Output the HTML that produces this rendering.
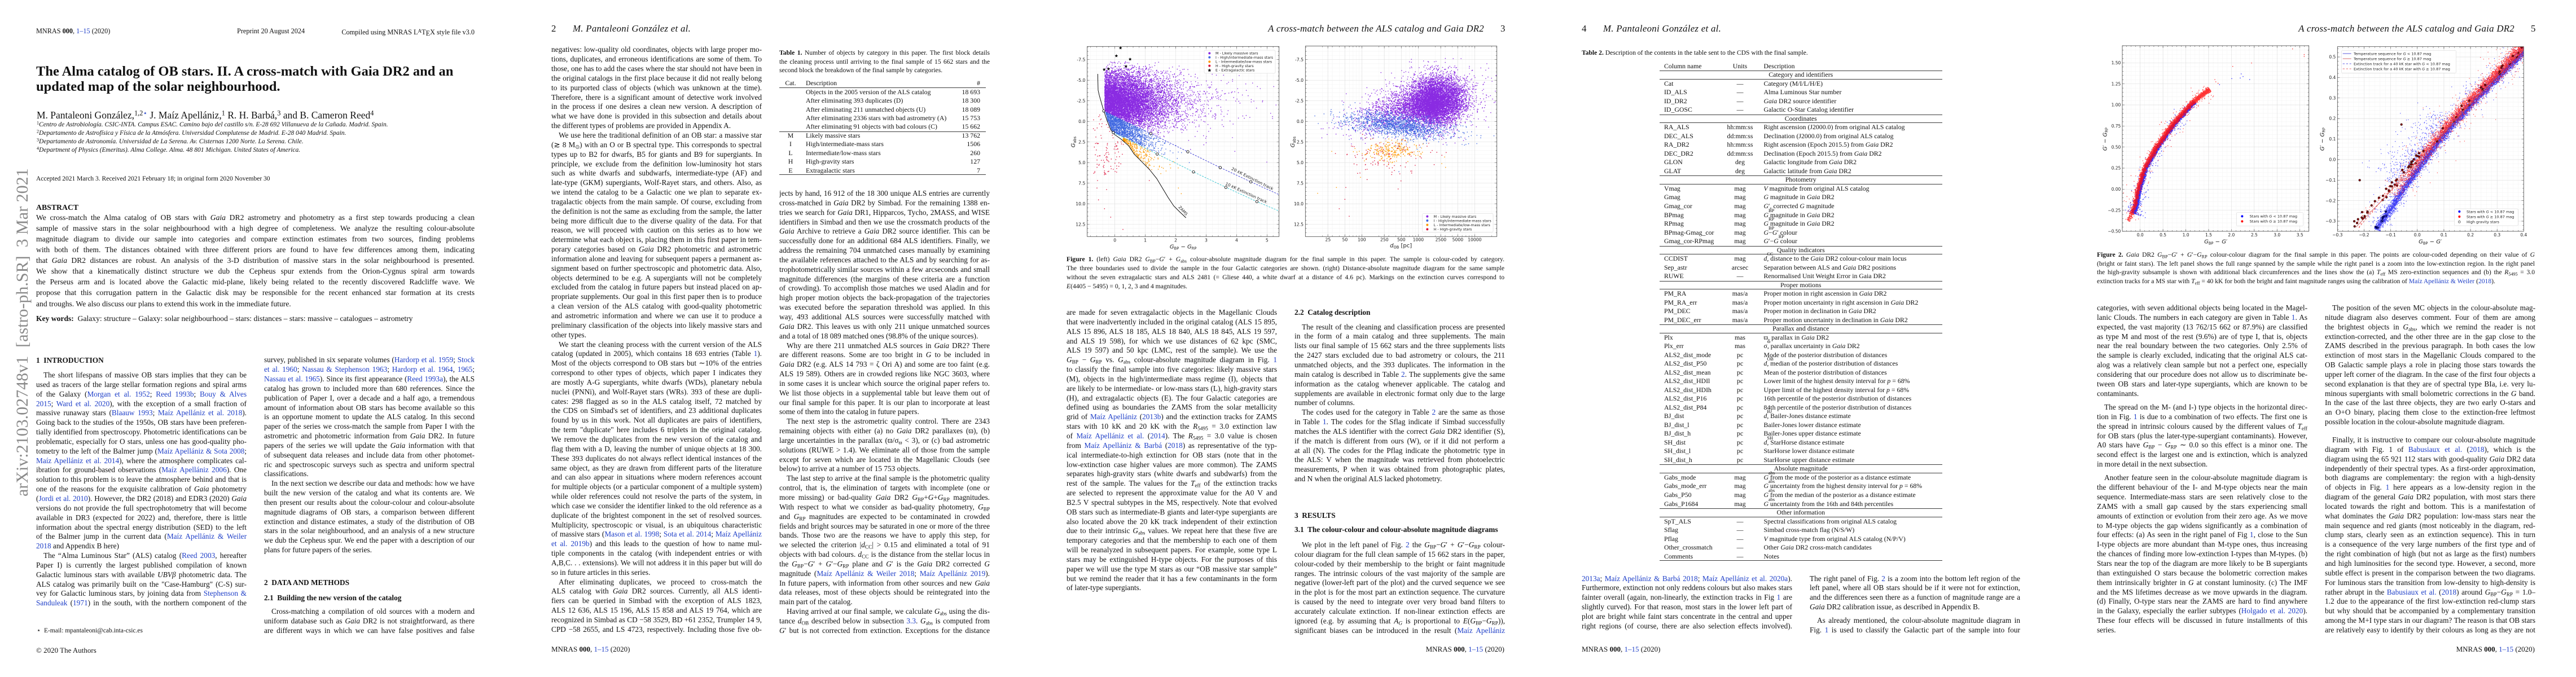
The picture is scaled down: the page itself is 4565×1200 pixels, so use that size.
<!DOCTYPE html>
<html><head><meta charset="utf-8">
<style>
html,body{margin:0;padding:0;background:#fff}
body{position:relative;width:4565px;height:1200px;overflow:hidden;font-family:"Liberation Serif",serif;color:#111}
.a{position:absolute;white-space:nowrap}
.c{position:absolute;width:373px;font-size:13.3px;line-height:16.85px}
.c>div{height:16.85px;overflow:hidden;text-align:justify;text-align-last:justify}
.c>.e{text-align-last:left}
.c>.i{text-indent:13px}
.cap{position:absolute;width:776px;font-size:11.6px;line-height:16px}
.cap>div{height:16px;overflow:hidden;text-align:justify;text-align-last:justify}
.cap>.e{text-align-last:left}
.b{color:#2040c8}
.s{font-size:70%;vertical-align:-0.28em;line-height:0}
.p{font-size:70%;vertical-align:0.45em;line-height:0}
.hd{position:absolute;white-space:nowrap;font-size:16.8px;line-height:20px}
.ft{position:absolute;white-space:nowrap;font-size:13px;line-height:15px}
.sh{position:absolute;white-space:nowrap;font-weight:bold;font-size:13.3px;line-height:16.85px}
.t1c{position:absolute;font-size:11.6px;line-height:15.5px;width:373px}
.t1c>div{height:15.5px;overflow:hidden;text-align:justify;text-align-last:justify}
.t1c>.e{text-align-last:left}
.tb1{position:absolute;left:1381px;top:140.1px;width:366px;font-size:11.8px}
.tb1 .tr{position:relative;height:15.47px;line-height:15.47px;white-space:nowrap}
.tb1 span{position:absolute;top:0}
.q1{left:0;width:40px;text-align:center}.q2{left:47px}.q3{right:10px}
.tb2{position:absolute;left:2940.5px;top:109.74px;width:501.5px;font-size:11.8px}
.tb2 .r{position:relative;height:15.52px;line-height:15.52px;white-space:nowrap}
.tb2 .r span{position:absolute;top:0}
.n{left:8.5px}.u{left:93px;width:100px;text-align:center}.d{left:185px}
.tb2 .g{text-align:center;box-shadow:inset 0 0.9px 0 #222,inset 0 -0.9px 0 #222}
.rt{box-shadow:inset 0 0.9px 0 #222}.rb{box-shadow:inset 0 -0.9px 0 #222}
canvas,svg.f{position:absolute}
svg.f text{font-family:"DejaVu Sans",sans-serif}
</style></head><body>

<!-- ================= PAGE 1 ================= -->
<div class="a" style="left:64px;top:48px;font-size:12.25px;line-height:14px">MNRAS <b>000</b>, <span class="b">1–15</span> (2020)</div>
<div class="a" style="left:420px;top:48px;font-size:12.25px;line-height:14px">Preprint 20 August 2024</div>
<div class="a" style="left:541px;width:300px;text-align:right;top:48px;font-size:12.25px;line-height:14px">Compiled using MNRAS L<span style="font-size:75%;vertical-align:0.3em">A</span>T<span style="vertical-align:-0.2em">E</span>X style file v3.0</div>

<div class="a" style="left:64px;top:113.2px;font-size:24.5px;line-height:27px;font-weight:bold">The Alma catalog of OB stars. II. A cross-match with Gaia DR2 and an<br>updated map of the solar neighbourhood.</div>
<div class="a" style="left:65px;top:194px;font-size:17.5px;line-height:20px">M. Pantaleoni González,<span class="p">1,2</span><span class="b p">⋆</span> J. Maíz Apellániz,<span class="p">1</span> R. H. Barbá,<span class="p">3</span> and B. Cameron Reed<span class="p">4</span></div>
<div class="a" style="left:65px;top:213.6px;font-size:11.5px;line-height:15px;font-style:italic"><span class="p" style="font-style:normal">1</span>Centro de Astrobiología. CSIC-INTA. Campus ESAC. Camino bajo del castillo s/n. E-28 692 Villanueva de la Cañada. Madrid. Spain.<br><span class="p" style="font-style:normal">2</span>Departamento de Astrofísica y Física de la Atmósfera. Universidad Complutense de Madrid. E-28 040 Madrid. Spain.<br><span class="p" style="font-style:normal">3</span>Departamento de Astronomía. Universidad de La Serena. Av. Cisternas 1200 Norte. La Serena. Chile.<br><span class="p" style="font-style:normal">4</span>Department of Physics (Emeritus). Alma College. Alma. 48 801 Michigan. United States of America.</div>
<div class="a" style="left:64px;top:309.6px;font-size:11.5px;line-height:15px">Accepted 2021 March 3. Received 2021 February 18; in original form 2020 November 30</div>

<div class="a" style="left:64px;top:357.8px;font-size:13.8px;line-height:19.1px;font-weight:bold">ABSTRACT</div>
<div class="c" style="left:64px;top:375.8px;width:777px;font-size:13.6px;line-height:19.1px">
<div style="height:19.1px">We cross-match the Alma catalog of OB stars with <i>Gaia</i> DR2 astrometry and photometry as a first step towards producing a clean</div>
<div style="height:19.1px">sample of massive stars in the solar neighbourhood with a high degree of completeness. We analyze the resulting colour-absolute</div>
<div style="height:19.1px">magnitude diagram to divide our sample into categories and compare extinction estimates from two sources, finding problems</div>
<div style="height:19.1px">with both of them. The distances obtained with three different priors are found to have few differences among them, indicating</div>
<div style="height:19.1px">that <i>Gaia</i> DR2 distances are robust. An analysis of the 3-D distribution of massive stars in the solar neighbourhood is presented.</div>
<div style="height:19.1px">We show that a kinematically distinct structure we dub the Cepheus spur extends from the Orion-Cygnus spiral arm towards</div>
<div style="height:19.1px">the Perseus arm and is located above the Galactic mid-plane, likely being related to the recently discovered Radcliffe wave. We</div>
<div style="height:19.1px">propose that this corrugation pattern in the Galactic disk may be responsible for the recent enhanced star formation at its crests</div>
<div class="e" style="height:19.1px">and troughs. We also discuss our plans to extend this work in the immediate future.</div>
</div>
<div class="a" style="left:64px;top:554.8px;font-size:13.6px;line-height:19.1px"><b>Key words:</b>&nbsp; Galaxy: structure – Galaxy: solar neighbourhood – stars: distances – stars: massive – catalogues – astrometry</div>

<div class="a" style="left:24.5px;top:880px;transform-origin:0 0;transform:rotate(-90deg);font-size:30px;line-height:30px;color:#8a8a8a;white-space:pre">arXiv:2103.02748v1  [astro-ph.SR]  3 Mar 2021</div>

<div class="sh" style="left:64px;top:631px">1&nbsp; INTRODUCTION</div>
<div class="c" style="left:64px;top:657px">
<div class="i">The short lifespans of massive OB stars implies that they can be</div>
<div>used as tracers of the large stellar formation regions and spiral arms</div>
<div>of the Galaxy (<span class="b">Morgan et al. 1952</span>; <span class="b">Reed 1993b</span>; <span class="b">Bouy &amp; Alves</span></div>
<div><span class="b">2015</span>; <span class="b">Ward et al. 2020</span>), with the exception of a small fraction of</div>
<div>massive runaway stars (<span class="b">Blaauw 1993</span>; <span class="b">Maíz Apellániz et al. 2018</span>).</div>
<div>Going back to the studies of the 1950s, OB stars have been preferen-</div>
<div>tially identified from spectroscopy. Photometric identifications can be</div>
<div>problematic, especially for O stars, unless one has good-quality pho-</div>
<div>tometry to the left of the Balmer jump (<span class="b">Maíz Apellániz &amp; Sota 2008</span>;</div>
<div><span class="b">Maíz Apellániz et al. 2014</span>), where the atmosphere complicates cal-</div>
<div>ibration for ground-based observations (<span class="b">Maíz Apellániz 2006</span>). One</div>
<div>solution to this problem is to leave the atmosphere behind and that is</div>
<div>one of the reasons for the exquisite calibration of <i>Gaia</i> photometry</div>
<div>(<span class="b">Jordi et al. 2010</span>). However, the DR2 (2018) and EDR3 (2020) <i>Gaia</i></div>
<div>versions do not provide the full spectrophotometry that will become</div>
<div>available in DR3 (expected for 2022) and, therefore, there is little</div>
<div>information about the spectral energy distribution (SED) to the left</div>
<div>of the Balmer jump in the current data (<span class="b">Maíz Apellániz &amp; Weiler</span></div>
<div class="e"><span class="b">2018</span> and Appendix B here)</div>
<div class="i">The “Alma Luminous Star” (ALS) catalog (<span class="b">Reed 2003</span>, hereafter</div>
<div>Paper I) is currently the largest published compilation of known</div>
<div>Galactic luminous stars with available <i>UBVβ</i> photometric data. The</div>
<div>ALS catalog was primarily built on the "Case-Hamburg" (C-S) sur-</div>
<div>vey for Galactic luminous stars, by joining data from <span class="b">Stephenson &amp;</span></div>
<div><span class="b">Sanduleak</span> (<span class="b">1971</span>) in the south, with the northern component of the</div>
</div>
<div class="a" style="left:65px;top:1111px;font-size:11.5px;line-height:15px">⋆&nbsp; E-mail: mpantaleoni@cab.inta-csic.es</div>
<div class="ft" style="left:64px;top:1145px">© 2020 The Authors</div>

<div class="c" style="left:468px;top:630.3px">
<div>survey, published in six separate volumes (<span class="b">Hardorp et al. 1959</span>; <span class="b">Stock</span></div>
<div><span class="b">et al. 1960</span>; <span class="b">Nassau &amp; Stephenson 1963</span>; <span class="b">Hardorp et al. 1964</span>, <span class="b">1965</span>;</div>
<div><span class="b">Nassau et al. 1965</span>). Since its first appearance (<span class="b">Reed 1993a</span>), the ALS</div>
<div>catalog has grown to included more than 680 references. Since the</div>
<div>publication of Paper I, over a decade and a half ago, a tremendous</div>
<div>amount of information about OB stars has become available so this</div>
<div>is an opportune moment to update the ALS catalog. In this second</div>
<div>paper of the series we cross-match the sample from Paper I with the</div>
<div>astrometric and photometric information from <i>Gaia</i> DR2. In future</div>
<div>papers of the series we will update the <i>Gaia</i> information with that</div>
<div>of subsequent data releases and include data from other photomet-</div>
<div>ric and spectroscopic surveys such as spectra and uniform spectral</div>
<div class="e">classifications.</div>
<div class="i">In the next section we describe our data and methods: how we have</div>
<div>built the new version of the catalog and what its contents are. We</div>
<div>then present our results about the colour-colour and colour-absolute</div>
<div>magnitude diagrams of OB stars, a comparison between different</div>
<div>extinction and distance estimates, a study of the distribution of OB</div>
<div>stars in the solar neighbourhood, and an analysis of a new structure</div>
<div>we dub the Cepheus spur. We end the paper with a description of our</div>
<div class="e">plans for future papers of the series.</div>
</div>
<div class="sh" style="left:468px;top:1025px">2&nbsp; DATA AND METHODS</div>
<div class="sh" style="left:468px;top:1051.6px">2.1&nbsp; Building the new version of the catalog</div>
<div class="c" style="left:468px;top:1076px">
<div class="i">Cross-matching a compilation of old sources with a modern and</div>
<div>uniform database such as <i>Gaia</i> DR2 is not straightforward, as there</div>
<div>are different ways in which we can have false positives and false</div>
</div>

<!-- ================= PAGE 2 ================= -->
<div class="hd" style="left:977px;top:41.4px">2</div>
<div class="hd" style="left:1015px;top:41.4px;font-style:italic;letter-spacing:0.3px">M. Pantaleoni González et al.</div>
<div class="c" style="left:977px;top:80.4px">
<div>negatives: low-quality old coordinates, objects with large proper mo-</div>
<div>tions, duplicates, and erroneous identifications are some of them. To</div>
<div>those, one has to add the cases where the star should not have been in</div>
<div>the original catalogs in the first place because it did not really belong</div>
<div>to its purported class of objects (which was unknown at the time).</div>
<div>Therefore, there is a significant amount of detective work involved</div>
<div>in the process if one desires a clean new version. A description of</div>
<div>what we have done is provided in this subsection and details about</div>
<div class="e">the different types of problems are provided in Appendix A.</div>
<div class="i">We use here the traditional definition of an OB star: a massive star</div>
<div>(≳ 8 M<span class="s">⊙</span>) with an O or B spectral type. This corresponds to spectral</div>
<div>types up to B2 for dwarfs, B5 for giants and B9 for supergiants. In</div>
<div>principle, we exclude from the definition low-luminosity hot stars</div>
<div>such as white dwarfs and subdwarfs, intermediate-type (AF) and</div>
<div>late-type (GKM) supergiants, Wolf-Rayet stars, and others. Also, as</div>
<div>we intend the catalog to be a Galactic one we plan to separate ex-</div>
<div>tragalactic objects from the main sample. Of course, excluding from</div>
<div>the definition is not the same as excluding from the sample, the latter</div>
<div>being more difficult due to the diverse quality of the data. For that</div>
<div>reason, we will proceed with caution on this series as to how we</div>
<div>determine what each object is, placing them in this first paper in tem-</div>
<div>porary categories based on <i>Gaia</i> DR2 photometric and astrometric</div>
<div>information alone and leaving for subsequent papers a permanent as-</div>
<div>signment based on further spectroscopic and photometric data. Also,</div>
<div>objects determined to be e.g. A supergiants will not be completely</div>
<div>excluded from the catalog in future papers but instead placed on ap-</div>
<div>propriate supplements. Our goal in this first paper then is to produce</div>
<div>a clean version of the ALS catalog with good-quality photometric</div>
<div>and astrometric information and where we can use it to produce a</div>
<div>preliminary classification of the objects into likely massive stars and</div>
<div class="e">other types.</div>
<div class="i">We start the cleaning process with the current version of the ALS</div>
<div>catalog (updated in 2005), which contains 18 693 entries (Table <span class="b">1</span>).</div>
<div>Most of the objects correspond to OB stars but ∼10% of the entries</div>
<div>correspond to other types of objects, which paper I indicates they</div>
<div>are mostly A-G supergiants, white dwarfs (WDs), planetary nebula</div>
<div>nuclei (PNNi), and Wolf-Rayet stars (WRs). 393 of these are dupli-</div>
<div>cates: 298 flagged as so in the ALS catalog itself, 72 matched by</div>
<div>the CDS on Simbad's set of identifiers, and 23 additional duplicates</div>
<div>found by us in this work. Not all duplicates are pairs of identifiers,</div>
<div>the term "duplicate" here includes 6 triplets in the original catalog.</div>
<div>We remove the duplicates from the new version of the catalog and</div>
<div>flag them with a D, leaving the number of unique objects at 18 300.</div>
<div>These 393 duplicates do not always reflect identical instances of the</div>
<div>same object, as they are drawn from different parts of the literature</div>
<div>and can also appear in situations where modern references account</div>
<div>for multiple objects (or a particular component of a multiple system)</div>
<div>while older references could not resolve the parts of the system, in</div>
<div>which case we consider the identifier linked to the old reference as a</div>
<div>duplicate of the brightest component in the set of resolved sources.</div>
<div>Multiplicity, spectroscopic or visual, is an ubiquitous characteristic</div>
<div>of massive stars (<span class="b">Mason et al. 1998</span>; <span class="b">Sota et al. 2014</span>; <span class="b">Maíz Apellániz</span></div>
<div><span class="b">et al. 2019b</span>) and this leads to the question of how to name mul-</div>
<div>tiple components in the catalog (with independent entries or with</div>
<div>A,B,C. . . extensions). We will not address it in this paper but will do</div>
<div class="e">so in future articles in this series.</div>
<div class="i">After eliminating duplicates, we proceed to cross-match the</div>
<div>ALS catalog with <i>Gaia</i> DR2 sources. Currently, all ALS identi-</div>
<div>fiers can be queried in Simbad with the exception of ALS 1823,</div>
<div>ALS 12 636, ALS 15 196, ALS 15 858 and ALS 19 764, which are</div>
<div>recognized in Simbad as CD −58 3529, BD +61 2352, Trumpler 14 9,</div>
<div>CPD −58 2655, and LS 4723, respectively. Including those five ob-</div>
</div>
<div class="ft" style="left:977px;top:1143px">MNRAS <b>000</b>, <span class="b">1–15</span> (2020)</div>

<div class="t1c" style="left:1381px;top:86px">
<div><b>Table 1.</b> Number of objects by category in this paper. The first block details</div>
<div>the cleaning process until arriving to the final sample of 15 662 stars and the</div>
<div class="e">second block the breakdown of the final sample by categories.</div>
</div>
<div class="tb1">
<div class="tr rt rb"><span class="q1">Cat.</span><span class="q2">Description</span><span class="q3">#</span></div>
<div class="tr"><span class="q2">Objects in the 2005 version of the ALS catalog</span><span class="q3">18 693</span></div>
<div class="tr"><span class="q2">After eliminating 393 duplicates (D)</span><span class="q3">18 300</span></div>
<div class="tr"><span class="q2">After eliminating 211 unmatched objects (U)</span><span class="q3">18 089</span></div>
<div class="tr"><span class="q2">After eliminating 2336 stars with bad astrometry (A)</span><span class="q3">15 753</span></div>
<div class="tr"><span class="q2">After eliminating 91 objects with bad colours (C)</span><span class="q3">15 662</span></div>
<div class="tr rt"><span class="q1">M</span><span class="q2">Likely massive stars</span><span class="q3">13 762</span></div>
<div class="tr"><span class="q1">I</span><span class="q2">High/intermediate-mass stars</span><span class="q3">1506</span></div>
<div class="tr"><span class="q1">L</span><span class="q2">Intermediate/low-mass stars</span><span class="q3">260</span></div>
<div class="tr"><span class="q1">H</span><span class="q2">High-gravity stars</span><span class="q3">127</span></div>
<div class="tr rb"><span class="q1">E</span><span class="q2">Extragalactic stars</span><span class="q3">7</span></div>
</div>

<div class="c" style="left:1381px;top:335px">
<div>jects by hand, 16 912 of the 18 300 unique ALS entries are currently</div>
<div>cross-matched in <i>Gaia</i> DR2 by Simbad. For the remaining 1388 en-</div>
<div>tries we search for <i>Gaia</i> DR1, Hipparcos, Tycho, 2MASS, and WISE</div>
<div>identifiers in Simbad and then we use the crossmatch products of the</div>
<div><i>Gaia</i> Archive to retrieve a <i>Gaia</i> DR2 source identifier. This can be</div>
<div>successfully done for an additional 684 ALS identifiers. Finally, we</div>
<div>address the remaining 704 unmatched cases manually by examining</div>
<div>the available references attached to the ALS and by searching for as-</div>
<div>trophotometrically similar sources within a few arcseconds and small</div>
<div>magnitude differences (the margins of these criteria are a function</div>
<div>of crowding). To accomplish those matches we used Aladin and for</div>
<div>high proper motion objects the back-propagation of the trajectories</div>
<div>was executed before the separation threshold was applied. In this</div>
<div>way, 493 additional ALS sources were successfully matched with</div>
<div><i>Gaia</i> DR2. This leaves us with only 211 unique unmatched sources</div>
<div class="e">and a total of 18 089 matched ones (98.8% of the unique sources).</div>
<div class="i">Why are there 211 unmatched ALS sources in <i>Gaia</i> DR2? There</div>
<div>are different reasons. Some are too bright in <i>G</i> to be included in</div>
<div><i>Gaia</i> DR2 (e.g. ALS 14 793 = ζ Ori A) and some are too faint (e.g.</div>
<div>ALS 19 589). Others are in crowded regions like NGC 3603, where</div>
<div>in some cases it is unclear which source the original paper refers to.</div>
<div>We list those objects in a supplemental table but leave them out of</div>
<div>our final sample for this paper. It is our plan to incorporate at least</div>
<div class="e">some of them into the catalog in future papers.</div>
<div class="i">The next step is the astrometric quality control. There are 2343</div>
<div>remaining objects with either (a) no <i>Gaia</i> DR2 parallaxes (ϖ), (b)</div>
<div>large uncertainties in the parallax (ϖ/σ<span class="s">ϖ</span> &lt; 3), or (c) bad astrometric</div>
<div>solutions (RUWE &gt; 1.4). We eliminate all of those from the sample</div>
<div>except for seven which are located in the Magellanic Clouds (see</div>
<div class="e">below) to arrive at a number of 15 753 objects.</div>
<div class="i">The last step to arrive at the final sample is the photometric quality</div>
<div>control, that is, the elimination of targets with incomplete (one or</div>
<div>more missing) or bad-quality <i>Gaia</i> DR2 <i>G</i><span class="s">BP</span>+<i>G</i>+<i>G</i><span class="s">RP</span> magnitudes.</div>
<div>With respect to what we consider as bad-quality photometry, <i>G</i><span class="s">BP</span></div>
<div>and <i>G</i><span class="s">RP</span> magnitudes are expected to be contaminated in crowded</div>
<div>fields and bright sources may be saturated in one or more of the three</div>
<div>bands. Those two are the reasons we have to apply this step, for which</div>
<div>we selected the criterion |<i>d</i><span class="s">CC</span>| &gt; 0.15 and eliminated a total of 91</div>
<div>objects with bad colours. <i>d</i><span class="s">CC</span> is the distance from the stellar locus in</div>
<div>the <i>G</i><span class="s">BP</span>−<i>G</i>′ + <i>G</i>′−<i>G</i><span class="s">RP</span> plane and <i>G</i>′ is the <i>Gaia</i> DR2 corrected <i>G</i></div>
<div>magnitude (<span class="b">Maíz Apellániz &amp; Weiler 2018</span>; <span class="b">Maíz Apellániz 2019</span>).</div>
<div>In future papers, with information from other sources and new <i>Gaia</i></div>
<div>data releases, most of these objects should be reintegrated into the</div>
<div class="e">main part of the catalog.</div>
<div class="i">Having arrived at our final sample, we calculate <i>G</i><span class="s">abs</span> using the dis-</div>
<div>tance <i>d</i><span class="s">OB</span> described below in subsection <span class="b">3.3</span>. <i>G</i><span class="s">abs</span> is computed from</div>
<div><i>G</i>′ but is not corrected from extinction. Exceptions for the distance</div>
</div>

<!-- ================= PAGE 3 ================= -->
<div class="hd" style="left:2230px;width:400px;text-align:right;top:41.4px;font-style:italic;letter-spacing:0.3px">A cross-match between the ALS catalog and Gaia DR2</div>
<div class="hd" style="left:2659px;top:41.4px">3</div>

<canvas id="k1" width="1200" height="1140" style="left:1880px;top:70px;width:400px;height:380px"></canvas>
<svg class="f" style="left:1880px;top:70px" width="400" height="380" viewBox="0 0 1200 1140">
<g fill="none" stroke-width="2.6" stroke-dasharray="9 6">
<polyline stroke="#2a2ad2" points="228,380 478,500 675,597 847,681 1010,757 1160,825"/>
<polyline stroke="#22c2cf" points="279,495 512,609 705,704 877,786 1042,862 1160,912"/>
</g>
<polyline fill="none" stroke="#000" stroke-width="2.8" points="196,183 198,270 205,300 225,370 245,430 265,480 285,505 320,530 360,565 390,610 430,650 470,690 510,740 540,790 570,840 600,885 630,915 665,948"/>
<g fill="#fff" stroke="#000" stroke-width="2.6">
<circle cx="228" cy="380" r="6.5"/><circle cx="478" cy="500" r="6.5"/><circle cx="675" cy="597" r="6.5"/><circle cx="847" cy="681" r="6.5"/><circle cx="1010" cy="757" r="6.5"/>
<circle cx="279" cy="495" r="6.5"/><circle cx="512" cy="609" r="6.5"/><circle cx="705" cy="704" r="6.5"/><circle cx="877" cy="786" r="6.5"/><circle cx="1042" cy="862" r="6.5"/>
</g>
<g font-size="21" fill="#222">
<text transform="translate(905,692) rotate(26.5)" textLength="246" lengthAdjust="spacingAndGlyphs">20 <tspan font-style="italic">k</tspan>K Extinction track</text>
<text transform="translate(873,772) rotate(24.5)" textLength="240" lengthAdjust="spacingAndGlyphs">10 <tspan font-style="italic">k</tspan>K Extinction track</text>
<text transform="translate(624,893) rotate(47)">ZAMS</text>
</g>
<rect x="140" y="37" width="1020" height="1011" fill="none" stroke="#555" stroke-width="2.6"/>
<rect x="762" y="57" width="378" height="123" rx="6" fill="#fff" fill-opacity="0.85" stroke="#d0d0d0" stroke-width="1.5"/>
<circle cx="790" cy="73" r="6" fill="#8a2be2"/><circle cx="790" cy="95" r="6" fill="#4169e1"/><circle cx="790" cy="118" r="6" fill="#ff9900"/><circle cx="790" cy="140" r="6" fill="#dc143c"/>
<polygon fill="#000" points="790,154 792.6,160.4 799.5,160.9 794.2,165.3 795.9,172 790,168.4 784.1,172 785.8,165.3 780.5,160.9 787.4,160.4"/>
<g font-size="19" fill="#222">
<text x="822" y="80">M - Likely massive stars</text>
<text x="822" y="102">I - High/intermediate-mass stars</text>
<text x="822" y="125">L - Intermediate/low-mass stars</text>
<text x="822" y="147">H - High-gravity stars</text>
<text x="822" y="170">E - Extragalactic stars</text>
</g>
<g font-size="23" fill="#222" text-anchor="end">
<text x="130" y="115">-7.5</text><text x="130" y="224.5">-5.0</text><text x="130" y="334">-2.5</text><text x="130" y="443.5">0.0</text><text x="130" y="553">2.5</text><text x="130" y="662.5">5.0</text><text x="130" y="772">7.5</text><text x="130" y="881.5">10.0</text><text x="130" y="991">12.5</text>
</g>
<g font-size="23" fill="#222" text-anchor="middle">
<text x="287" y="1076">0</text><text x="448.8" y="1076">1</text><text x="610.6" y="1076">2</text><text x="772.4" y="1076">3</text><text x="934.2" y="1076">4</text><text x="1096" y="1076">5</text>
</g>
<text x="650" y="1112" text-anchor="middle" font-size="30" fill="#222"><tspan font-style="italic">G</tspan><tspan font-size="20" dy="6">BP</tspan><tspan dy="-6"> − </tspan><tspan font-style="italic">G</tspan><tspan font-size="20" dy="6">RP</tspan></text>
<text transform="translate(75,545) rotate(-90)" text-anchor="middle" font-size="30" fill="#222"><tspan font-style="italic">G</tspan><tspan font-size="20" dy="6">abs</tspan></text>
</svg>

<canvas id="k2" width="1200" height="1140" style="left:2280px;top:70px;width:400px;height:380px"></canvas>
<svg class="f" style="left:2280px;top:70px" width="400" height="380" viewBox="0 0 1200 1140">
<rect x="100" y="35" width="1018" height="1013" fill="none" stroke="#555" stroke-width="2.6"/>
<rect x="722" y="925" width="376" height="100" rx="6" fill="#fff" fill-opacity="0.85" stroke="#d0d0d0" stroke-width="1.5"/>
<circle cx="748" cy="941" r="6" fill="#8a2be2"/><circle cx="748" cy="963" r="6" fill="#4169e1"/><circle cx="748" cy="986" r="6" fill="#ff9900"/><circle cx="748" cy="1009" r="6" fill="#dc143c"/>
<g font-size="19" fill="#222">
<text x="782" y="948">M - Likely massive stars</text>
<text x="782" y="970">I - High/intermediate-mass stars</text>
<text x="782" y="993">L - Intermediate/low-mass stars</text>
<text x="782" y="1016">H - High-gravity stars</text>
</g>
<g font-size="23" fill="#222" text-anchor="end">
<text x="90" y="115">-7.5</text><text x="90" y="224.5">-5.0</text><text x="90" y="334">-2.5</text><text x="90" y="443.5">0.0</text><text x="90" y="553">2.5</text><text x="90" y="662.5">5.0</text><text x="90" y="772">7.5</text><text x="90" y="881.5">10.0</text><text x="90" y="991">12.5</text>
</g>
<g font-size="23" fill="#222" text-anchor="middle">
<text x="220" y="1072">25</text><text x="310" y="1072">50</text><text x="400" y="1072">100</text><text x="520" y="1072">250</text><text x="610" y="1072">500</text><text x="700" y="1072">1000</text><text x="820" y="1072">2500</text><text x="910" y="1072">5000</text><text x="1000" y="1072">10000</text>
</g>
<text x="608" y="1105" text-anchor="middle" font-size="30" fill="#222"><tspan font-style="italic">d</tspan><tspan font-size="20" dy="6">OB</tspan><tspan dy="-6"> [pc]</tspan></text>
<text transform="translate(42,545) rotate(-90)" text-anchor="middle" font-size="30" fill="#222"><tspan font-style="italic">G</tspan><tspan font-size="20" dy="6">abs</tspan></text>
</svg>

<div class="cap" style="left:1890px;top:451.8px">
<div><b>Figure 1.</b> (left) <i>Gaia</i> DR2 <i>G</i><span class="s">BP</span>−<i>G</i>′ + <i>G</i><span class="s">abs</span> colour-absolute magnitude diagram for the final sample in this paper. The sample is colour-coded by category.</div>
<div>The three boundaries used to divide the sample in the four Galactic categories are shown. (right) Distance-absolute magnitude diagram for the same sample</div>
<div>without the seven extragalactic stars and ALS 2481 (= Gliese 440, a white dwarf at a distance of 4.6 pc). Markings on the extinction curves correspond to</div>
<div class="e"><i>E</i>(4405 − 5495) = 0, 1, 2, 3 and 4 magnitudes.</div>
</div>

<div class="c" style="left:1890px;top:546px">
<div>are made for seven extragalactic objects in the Magellanic Clouds</div>
<div>that were inadvertently included in the original catalog (ALS 15 895,</div>
<div>ALS 15 896, ALS 18 185, ALS 18 840, ALS 18 845, ALS 19 597,</div>
<div>and ALS 19 598), for which we use distances of 62 kpc (SMC,</div>
<div>ALS 19 597) and 50 kpc (LMC, rest of the sample). We use the</div>
<div><i>G</i><span class="s">BP</span> − <i>G</i><span class="s">RP</span> vs. <i>G</i><span class="s">abs</span> colour-absolute magnitude diagram in Fig. <span class="b">1</span></div>
<div>to classify the final sample into five categories: likely massive stars</div>
<div>(M), objects in the high/intermediate mass regime (I), objects that</div>
<div>are likely to be intermediate- or low-mass stars (L), high-gravity stars</div>
<div>(H), and extragalactic objects (E). The four Galactic categories are</div>
<div>defined using as boundaries the ZAMS from the solar metallicity</div>
<div>grid of <span class="b">Maíz Apellániz</span> (<span class="b">2013b</span>) and the extinction tracks for ZAMS</div>
<div>stars with 10 kK and 20 kK with the <i>R</i><span class="s">5495</span> = 3.0 extinction law</div>
<div>of <span class="b">Maíz Apellániz et al.</span> (<span class="b">2014</span>). The <i>R</i><span class="s">5495</span> = 3.0 value is chosen</div>
<div>from <span class="b">Maíz Apellániz &amp; Barbá</span> (<span class="b">2018</span>) as representative of the typ-</div>
<div>ical intermediate-to-high extinction for OB stars (note that in the</div>
<div>low-extinction case higher values are more common). The ZAMS</div>
<div>separates high-gravity stars (white dwarfs and subdwarfs) from the</div>
<div>rest of the sample. The values for the <i>T</i><span class="s">eff</span> of the extinction tracks</div>
<div>are selected to represent the approximate value for the A0 V and</div>
<div>B2.5 V spectral subtypes in the MS, respectively. Note that evolved</div>
<div>OB stars such as intermediate-B giants and later-type supergiants are</div>
<div>also located above the 20 kK track independent of their extinction</div>
<div>due to their intrinsic <i>G</i><span class="s">abs</span> values. We repeat here that these five are</div>
<div>temporary categories and that the membership to each one of them</div>
<div>will be reanalyzed in subsequent papers. For example, some type L</div>
<div>stars may be extinguished H-type objects. For the purposes of this</div>
<div>paper we will use the type M stars as our “OB massive star sample”</div>
<div>but we remind the reader that it has a few contaminants in the form</div>
<div class="e">of later-type supergiants.</div>
</div>

<div class="sh" style="left:2294px;top:546px">2.2&nbsp; Catalog description</div>
<div class="c" style="left:2294px;top:571.6px">
<div class="i">The result of the cleaning and classification process are presented</div>
<div>in the form of a main catalog and three supplements. The main catalog</div>
<div>lists our final sample of 15 662 stars and the three supplements lists</div>
<div>the 2427 stars excluded due to bad astrometry or colours, the 211</div>
<div>unmatched objects, and the 393 duplicates. The information in the</div>
<div>main catalog is described in Table <span class="b">2</span>. The supplements give the same</div>
<div>information as the catalog whenever applicable. The catalog and</div>
<div>supplements are available in electronic format only due to the large</div>
<div class="e">number of columns.</div>
<div class="i">The codes used for the category in Table <span class="b">2</span> are the same as those</div>
<div>in Table <span class="b">1</span>. The codes for the Sflag indicate if Simbad successfully</div>
<div>matches the ALS identifier with the correct <i>Gaia</i> DR2 identifier (S),</div>
<div>if the match is different from ours (W), or if it did not perform a match</div>
<div>at all (N). The codes for the Pflag indicate the photometric type in</div>
<div>the ALS: V when the magnitude was retrieved from photoelectric</div>
<div>measurements, P when it was obtained from photographic plates,</div>
<div class="e">and N when the original ALS lacked photometry.</div>
</div>
<div class="sh" style="left:2294px;top:905.8px">3&nbsp; RESULTS</div>
<div class="sh" style="left:2294px;top:931px">3.1&nbsp; The colour-colour and colour-absolute magnitude diagrams</div>
<div class="c" style="left:2294px;top:958px">
<div class="i">We plot in the left panel of Fig. <span class="b">2</span> the <i>G</i><span class="s">BP</span>−<i>G</i>′ + <i>G</i>′−<i>G</i><span class="s">RP</span> colour-</div>
<div>colour diagram for the full clean sample of 15 662 stars in the paper,</div>
<div>colour-coded by their membership to the bright or faint magnitude</div>
<div>ranges. The intrinsic colours of the vast majority of the sample are</div>
<div>negative (lower-left part of the plot) and the curved sequence we see</div>
<div>in the plot is for the most part an extinction sequence. The curvature</div>
<div>is caused by the need to integrate over very broad band filters to</div>
<div>accurately calculate extinction. If non-linear extinction effects are</div>
<div>ignored (e.g. by assuming that <i>A</i><span class="s"><i>G</i></span> is proportional to <i>E</i>(<i>G</i><span class="s">BP</span>−<i>G</i><span class="s">RP</span>)),</div>
<div>significant biases can be introduced in the result (<span class="b">Maíz Apellániz</span></div>
</div>
<div class="ft" style="left:2366px;width:300px;text-align:right;top:1143px">MNRAS <b>000</b>, <span class="b">1–15</span> (2020)</div>

<!-- ================= PAGE 4 ================= -->
<div class="hd" style="left:2803px;top:41.4px">4</div>
<div class="hd" style="left:2841px;top:41.4px;font-style:italic;letter-spacing:0.3px">M. Pantaleoni González et al.</div>
<div class="a" style="left:2803px;top:86px;font-size:11.6px;line-height:15.5px"><b>Table 2.</b> Description of the contents in the table sent to the CDS with the final sample.</div>
<div class="tb2">
<div class="r"><span class="n">Column name</span><span class="u">Units</span><span class="d">Description</span></div>
<div class="r g">Category and identifiers</div>
<div class="r"><span class="n">Cat</span><span class="u">—</span><span class="d">Category (M/I/L/H/E)</span></div>
<div class="r"><span class="n">ID_ALS</span><span class="u">—</span><span class="d">Alma Luminous Star number</span></div>
<div class="r"><span class="n">ID_DR2</span><span class="u">—</span><span class="d"><i>Gaia</i> DR2 source identifier</span></div>
<div class="r"><span class="n">ID_GOSC</span><span class="u">—</span><span class="d">Galactic O-Star Catalog identifier</span></div>
<div class="r g">Coordinates</div>
<div class="r"><span class="n">RA_ALS</span><span class="u">hh:mm:ss</span><span class="d">Right ascension (J2000.0) from original ALS catalog</span></div>
<div class="r"><span class="n">DEC_ALS</span><span class="u">dd:mm:ss</span><span class="d">Declination (J2000.0) from original ALS catalog</span></div>
<div class="r"><span class="n">RA_DR2</span><span class="u">hh:mm:ss</span><span class="d">Right ascension (Epoch 2015.5) from <i>Gaia</i> DR2</span></div>
<div class="r"><span class="n">DEC_DR2</span><span class="u">dd:mm:ss</span><span class="d">Declination (Epoch 2015.5) from <i>Gaia</i> DR2</span></div>
<div class="r"><span class="n">GLON</span><span class="u">deg</span><span class="d">Galactic longitude from <i>Gaia</i> DR2</span></div>
<div class="r"><span class="n">GLAT</span><span class="u">deg</span><span class="d">Galactic latitude from <i>Gaia</i> DR2</span></div>
<div class="r g">Photometry</div>
<div class="r"><span class="n">Vmag</span><span class="u">mag</span><span class="d"><i>V</i> magnitude from original ALS catalog</span></div>
<div class="r"><span class="n">Gmag</span><span class="u">mag</span><span class="d"><i>G</i> magnitude in <i>Gaia</i> DR2</span></div>
<div class="r"><span class="n">Gmag_cor</span><span class="u">mag</span><span class="d"><i>G</i>′, corrected <i>G</i> magnitude</span></div>
<div class="r"><span class="n">BPmag</span><span class="u">mag</span><span class="d"><i>G</i><span class="s">BP</span> magnitude in <i>Gaia</i> DR2</span></div>
<div class="r"><span class="n">RPmag</span><span class="u">mag</span><span class="d"><i>G</i><span class="s">RP</span> magnitude in <i>Gaia</i> DR2</span></div>
<div class="r"><span class="n">BPmag-Gmag_cor</span><span class="u">mag</span><span class="d"><i>G</i><span class="s">BP</span>−<i>G</i>′ colour</span></div>
<div class="r"><span class="n">Gmag_cor-RPmag</span><span class="u">mag</span><span class="d"><i>G</i>′−<i>G</i><span class="s">RP</span> colour</span></div>
<div class="r g">Quality indicators</div>
<div class="r"><span class="n">CCDIST</span><span class="u">mag</span><span class="d"><i>d</i><span class="s">CC</span>, distance to the <i>Gaia</i> DR2 colour-colour main locus</span></div>
<div class="r"><span class="n">Sep_astr</span><span class="u">arcsec</span><span class="d">Separation between ALS and <i>Gaia</i> DR2 positions</span></div>
<div class="r"><span class="n">RUWE</span><span class="u">—</span><span class="d">Renormalised Unit Weight Error in Gaia DR2</span></div>
<div class="r g">Proper motions</div>
<div class="r"><span class="n">PM_RA</span><span class="u">mas/a</span><span class="d">Proper motion in right ascension in <i>Gaia</i> DR2</span></div>
<div class="r"><span class="n">PM_RA_err</span><span class="u">mas/a</span><span class="d">Proper motion uncertainty in right ascension in <i>Gaia</i> DR2</span></div>
<div class="r"><span class="n">PM_DEC</span><span class="u">mas/a</span><span class="d">Proper motion in declination in <i>Gaia</i> DR2</span></div>
<div class="r"><span class="n">PM_DEC_err</span><span class="u">mas/a</span><span class="d">Proper motion uncertainty in declination in <i>Gaia</i> DR2</span></div>
<div class="r g">Parallax and distance</div>
<div class="r"><span class="n">Plx</span><span class="u">mas</span><span class="d">ϖ, parallax in <i>Gaia</i> DR2</span></div>
<div class="r"><span class="n">Plx_err</span><span class="u">mas</span><span class="d">σ<span class="s">ϖ</span>, parallax uncertainty in <i>Gaia</i> DR2</span></div>
<div class="r"><span class="n">ALS2_dist_mode</span><span class="u">pc</span><span class="d">Mode of the posterior distribution of distances</span></div>
<div class="r"><span class="n">ALS2_dist_P50</span><span class="u">pc</span><span class="d"><i>d</i><span class="s">OB</span>, median of the posterior distribution of distances</span></div>
<div class="r"><span class="n">ALS2_dist_mean</span><span class="u">pc</span><span class="d">Mean of the posterior distribution of distances</span></div>
<div class="r"><span class="n">ALS2_dist_HDIl</span><span class="u">pc</span><span class="d">Lower limit of the highest density interval for <i>p</i> = 68%</span></div>
<div class="r"><span class="n">ALS2_dist_HDIh</span><span class="u">pc</span><span class="d">Upper limit of the highest density interval for <i>p</i> = 68%</span></div>
<div class="r"><span class="n">ALS2_dist_P16</span><span class="u">pc</span><span class="d">16th percentile of the posterior distribution of distances</span></div>
<div class="r"><span class="n">ALS2_dist_P84</span><span class="u">pc</span><span class="d">84th percentile of the posterior distribution of distances</span></div>
<div class="r"><span class="n">BJ_dist</span><span class="u">pc</span><span class="d"><i>d</i><span class="s">BJ</span>, Bailer-Jones distance estimate</span></div>
<div class="r"><span class="n">BJ_dist_l</span><span class="u">pc</span><span class="d">Bailer-Jones lower distance estimate</span></div>
<div class="r"><span class="n">BJ_dist_h</span><span class="u">pc</span><span class="d">Bailer-Jones upper distance estimate</span></div>
<div class="r"><span class="n">SH_dist</span><span class="u">pc</span><span class="d"><i>d</i><span class="s">SH</span>, StarHorse distance estimate</span></div>
<div class="r"><span class="n">SH_dist_l</span><span class="u">pc</span><span class="d">StarHorse lower distance estimate</span></div>
<div class="r"><span class="n">SH_dist_h</span><span class="u">pc</span><span class="d">StarHorse upper distance estimate</span></div>
<div class="r g">Absolute magnitude</div>
<div class="r"><span class="n">Gabs_mode</span><span class="u">mag</span><span class="d"><i>G</i><span class="s">abs</span> from the mode of the posterior as a distance estimate</span></div>
<div class="r"><span class="n">Gabs_mode_err</span><span class="u">mag</span><span class="d"><i>G</i><span class="s">abs</span> uncertainty from the highest density interval for <i>p</i> = 68%</span></div>
<div class="r"><span class="n">Gabs_P50</span><span class="u">mag</span><span class="d"><i>G</i><span class="s">abs</span> from the median of the posterior as a distance estimate</span></div>
<div class="r"><span class="n">Gabs_P1684</span><span class="u">mag</span><span class="d"><i>G</i><span class="s">abs</span> uncertainty from the 16th and 84th percentiles</span></div>
<div class="r g">Other information</div>
<div class="r"><span class="n">SpT_ALS</span><span class="u">—</span><span class="d">Spectral classifications from original ALS catalog</span></div>
<div class="r"><span class="n">Sflag</span><span class="u">—</span><span class="d">Simbad cross-match flag (N/S/W)</span></div>
<div class="r"><span class="n">Pflag</span><span class="u">—</span><span class="d"><i>V</i> magnitude type from original ALS catalog (N/P/V)</span></div>
<div class="r"><span class="n">Other_crossmatch</span><span class="u">—</span><span class="d">Other <i>Gaia</i> DR2 cross-match candidates</span></div>
<div class="r rb"><span class="n">Comments</span><span class="u">—</span><span class="d">Notes</span></div>
</div>

<div class="c" style="left:2803px;top:1017.6px">
<div><span class="b">2013a</span>; <span class="b">Maíz Apellániz &amp; Barbá 2018</span>; <span class="b">Maíz Apellániz et al. 2020a</span>).</div>
<div>Furthermore, extinction not only reddens colours but also makes stars</div>
<div>fainter overall (again, non-linearly, the extinction tracks in Fig <span class="b">1</span> are</div>
<div>slightly curved). For that reason, most stars in the lower left part of the</div>
<div>plot are bright while faint stars concentrate in the central and upper</div>
<div>right regions (of course, there are also selection effects involved).</div>
</div>
<div class="c" style="left:3207px;top:1017.6px">
<div>The right panel of Fig. <span class="b">2</span> is a zoom into the bottom left region of the</div>
<div>left panel, where all OB stars should be if it were not for extinction,</div>
<div>and the differences seen there as a function of magnitude range are a</div>
<div class="e"><i>Gaia</i> DR2 calibration issue, as described in Appendix B.</div>
</div>
<div class="c" style="left:3207px;top:1092px">
<div class="i">As already mentioned, the colour-absolute magnitude diagram in</div>
<div>Fig. <span class="b">1</span> is used to classify the Galactic part of the sample into four</div>
</div>
<div class="ft" style="left:2803px;top:1143px">MNRAS <b>000</b>, <span class="b">1–15</span> (2020)</div>

<!-- ================= PAGE 5 ================= -->
<div class="hd" style="left:4056px;width:400px;text-align:right;top:41.4px;font-style:italic;letter-spacing:0.3px">A cross-match between the ALS catalog and Gaia DR2</div>
<div class="hd" style="left:4485px;top:41.4px">5</div>

<canvas id="k3" width="1170" height="1110" style="left:3720px;top:70px;width:390px;height:370px"></canvas>
<svg class="f" style="left:3720px;top:70px" width="390" height="370" viewBox="0 0 1170 1110">
<rect x="123" y="33" width="992" height="987" fill="none" stroke="#555" stroke-width="2.6"/>
<rect x="730" y="920" width="355" height="72" rx="6" fill="#fff" fill-opacity="0.85" stroke="#d0d0d0" stroke-width="1.5"/>
<circle cx="760" cy="940" r="6" fill="#0000ff"/><circle cx="760" cy="967" r="6" fill="#ff0000"/>
<g font-size="19.5" fill="#222">
<text x="800" y="947">Stars with <tspan font-style="italic">G</tspan> &lt; 10.87 mag</text>
<text x="800" y="974">Stars with <tspan font-style="italic">G</tspan> ≥ 10.87 mag</text>
</g>
<g font-size="22.5" fill="#222" text-anchor="end">
<text x="115" y="132">1.50</text><text x="115" y="244">1.25</text><text x="115" y="356">1.00</text><text x="115" y="468">0.75</text><text x="115" y="580">0.50</text><text x="115" y="692">0.25</text><text x="115" y="804">0.00</text><text x="115" y="916">−0.25</text><text x="115" y="1028">−0.50</text>
</g>
<g font-size="22.5" fill="#222" text-anchor="middle">
<text x="218" y="1047">0.0</text><text x="339.3" y="1047">0.5</text><text x="460.6" y="1047">1.0</text><text x="581.8" y="1047">1.5</text><text x="703.1" y="1047">2.0</text><text x="824.4" y="1047">2.5</text><text x="945.7" y="1047">3.0</text><text x="1067" y="1047">3.5</text>
</g>
<text x="620" y="1085" text-anchor="middle" font-size="30" fill="#222"><tspan font-style="italic">G</tspan><tspan font-size="20" dy="6">BP</tspan><tspan dy="-6"> − </tspan><tspan font-style="italic">G</tspan>′</text>
<text transform="translate(40,530) rotate(-90)" text-anchor="middle" font-size="30" fill="#222"><tspan font-style="italic">G</tspan>′ − <tspan font-style="italic">G</tspan><tspan font-size="20" dy="6">RP</tspan></text>
</svg>

<canvas id="k4" width="1170" height="1110" style="left:4110px;top:70px;width:390px;height:370px"></canvas>
<svg class="f" style="left:4110px;top:70px" width="390" height="370" viewBox="0 0 1170 1110">
<g fill="none" stroke-width="2.6">
<polyline stroke="#d05a5a" points="195,998 260,930 340,850 430,750 520,650 620,540 730,420 840,300 960,180 1087,50"/>
<polyline stroke="#4646d8" points="310,998 380,900 450,790 530,680 620,560 720,440 830,320 950,200 1087,65"/>
<polyline stroke="#e04040" stroke-dasharray="10 8" points="210,1000 320,870 430,740 540,620 660,490 800,340 940,200 1087,45"/>
<polyline stroke="#3333dd" stroke-dasharray="10 8" points="320,1000 470,780 630,560 790,370 950,215 1087,80"/>
</g>
<rect x="97" y="38" width="990" height="982" fill="none" stroke="#555" stroke-width="2.6"/>
<rect x="118" y="58" width="610" height="120" rx="6" fill="#fff" fill-opacity="0.85" stroke="#d0d0d0" stroke-width="1.5"/>
<line x1="125" y1="75" x2="170" y2="75" stroke="#4646d8" stroke-width="2.6"/>
<line x1="125" y1="102" x2="170" y2="102" stroke="#d05a5a" stroke-width="2.6"/>
<line x1="125" y1="129" x2="170" y2="129" stroke="#3333dd" stroke-width="2.6" stroke-dasharray="10 8"/>
<line x1="125" y1="156" x2="170" y2="156" stroke="#e04040" stroke-width="2.6" stroke-dasharray="10 8"/>
<g font-size="19.5" fill="#222">
<text x="183" y="82">Temperature sequence for <tspan font-style="italic">G</tspan> &lt; 10.87 mag</text>
<text x="183" y="109">Temperature sequence for <tspan font-style="italic">G</tspan> ≥ 10.87 mag</text>
<text x="183" y="136">Extinction track for a 40 <tspan font-style="italic">k</tspan>K star with <tspan font-style="italic">G</tspan> &lt; 10.87 mag</text>
<text x="183" y="163">Extinction track for a 40 <tspan font-style="italic">k</tspan>K star with <tspan font-style="italic">G</tspan> ≥ 10.87 mag</text>
</g>
<rect x="718" y="900" width="339" height="90" rx="6" fill="#fff" fill-opacity="0.85" stroke="#d0d0d0" stroke-width="1.5"/>
<circle cx="745" cy="915" r="6" fill="#0000ff"/><circle cx="745" cy="942" r="6" fill="#ff0000"/><circle cx="745" cy="970" r="5.5" fill="none" stroke="#222" stroke-width="2"/>
<g font-size="19.5" fill="#222">
<text x="783" y="922">Stars with <tspan font-style="italic">G</tspan> &lt; 10.87 mag</text>
<text x="783" y="949">Stars with <tspan font-style="italic">G</tspan> ≥ 10.87 mag</text>
<text x="783" y="977">High gravity stars</text>
</g>
<g font-size="22.5" fill="#222" text-anchor="end">
<text x="88" y="101">0.5</text><text x="88" y="210">0.4</text><text x="88" y="319">0.3</text><text x="88" y="428">0.2</text><text x="88" y="537.5">0.1</text><text x="88" y="646.6">0.0</text><text x="88" y="755.8">−0.1</text><text x="88" y="865">−0.2</text><text x="88" y="974">−0.3</text>
</g>
<g font-size="22.5" fill="#222" text-anchor="middle">
<text x="97" y="1047">−0.3</text><text x="238.4" y="1047">−0.2</text><text x="379.9" y="1047">−0.1</text><text x="521.3" y="1047">0.0</text><text x="662.7" y="1047">0.1</text><text x="804.1" y="1047">0.2</text><text x="945.6" y="1047">0.3</text><text x="1087" y="1047">0.4</text>
</g>
<text x="590" y="1085" text-anchor="middle" font-size="30" fill="#222"><tspan font-style="italic">G</tspan><tspan font-size="20" dy="6">BP</tspan><tspan dy="-6"> − </tspan><tspan font-style="italic">G</tspan>′</text>
<text transform="translate(26,530) rotate(-90)" text-anchor="middle" font-size="30" fill="#222"><tspan font-style="italic">G</tspan>′ − <tspan font-style="italic">G</tspan><tspan font-size="20" dy="6">RP</tspan></text>
</svg>

<div class="cap" style="left:3716px;top:443.9px;line-height:15.7px">
<div style="height:15.7px"><b>Figure 2.</b> <i>Gaia</i> DR2 <i>G</i><span class="s">BP</span>−<i>G</i>′ + <i>G</i>′−<i>G</i><span class="s">RP</span> colour-colour diagram for the final sample in this paper. The points are colour-coded depending on their value of <i>G</i></div>
<div style="height:15.7px">(bright or faint stars). The left panel shows the full range spanned by the sample while the right panel is a zoom into the low-extinction region. In the right panel</div>
<div style="height:15.7px">the high-gravity subsample is shown with additional black circumferences and the lines show the (a) <i>T</i><span class="s">eff</span> MS zero-extinction sequences and (b) the <i>R</i><span class="s">5495</span> = 3.0</div>
<div class="e" style="height:15.7px">extinction tracks for a MS star with <i>T</i><span class="s">eff</span> = 40 kK for both the bright and faint magnitude ranges using the calibration of <span class="b">Maíz Apellániz &amp; Weiler</span> (<span class="b">2018</span>).</div>
</div>

<div class="c" style="left:3716px;top:538px">
<div>categories, with seven additional objects being located in the Magel-</div>
<div>lanic Clouds. The numbers in each category are given in Table <span class="b">1</span>. As</div>
<div>expected, the vast majority (13 762/15 662 or 87.9%) are classified</div>
<div>as type M and most of the rest (9.6%) are of type I, that is, objects</div>
<div>near the real boundary between the two categories. Only 2.5% of</div>
<div>the sample is clearly excluded, indicating that the original ALS cat-</div>
<div>alog was a relatively clean sample but not a perfect one, especially</div>
<div>considering that our procedure does not allow us to discriminate be-</div>
<div>tween OB stars and later-type supergiants, which are known to be</div>
<div class="e">contaminants.</div>
</div>
<div class="c" style="left:3716px;top:714px">
<div class="i">The spread on the M- (and I-) type objects in the horizontal direc-</div>
<div>tion in Fig. <span class="b">1</span> is due to a combination of two effects. The first one is</div>
<div>the spread in intrinsic colours caused by the different values of <i>T</i><span class="s">eff</span></div>
<div>for OB stars (plus the later-type-supergiant contaminants). However,</div>
<div>A0 stars have <i>G</i><span class="s">BP</span> − <i>G</i><span class="s">RP</span> ∼ 0.0 so this effect is a minor one. The</div>
<div>second effect is the largest one and is extinction, which is analyzed</div>
<div class="e">in more detail in the next subsection.</div>
</div>
<div class="c" style="left:3716px;top:839.4px">
<div class="i">Another feature seen in the colour-absolute magnitude diagram is</div>
<div>the different behaviour of the I- and M-type objects near the main</div>
<div>sequence. Intermediate-mass stars are seen relatively close to the</div>
<div>ZAMS with a small gap caused by the stars experiencing small</div>
<div>amounts of extinction or evolution from their zero age. As we move</div>
<div>to M-type objects the gap widens significantly as a combination of</div>
<div>four effects: (a) As seen in the right panel of Fig <span class="b">1</span>, close to the Sun</div>
<div>I-type objects are more abundant than M-type ones, thus increasing</div>
<div>the chances of finding more low-extinction I-types than M-types. (b)</div>
<div>Stars near the top of the diagram are more likely to be B supergiants</div>
<div>than extinguished O stars because the bolometric correction makes</div>
<div>them intrinsically brighter in <i>G</i> at constant luminosity. (c) The IMF</div>
<div>and the MS lifetimes decrease as we move upwards in the diagram.</div>
<div>(d) Finally, O-type stars near the ZAMS are hard to find anywhere</div>
<div>in the Galaxy, especially the earlier subtypes (<span class="b">Holgado et al. 2020</span>).</div>
<div>These four effects will be discussed in future installments of this</div>
<div class="e">series.</div>
</div>
<div class="c" style="left:4120px;top:538px">
<div class="i">The position of the seven MC objects in the colour-absolute mag-</div>
<div>nitude diagram also deserves comment. Four of them are among</div>
<div>the brightest objects in <i>G</i><span class="s">abs</span>, which we remind the reader is not</div>
<div>extinction-corrected, and the other three are in the gap close to the</div>
<div>ZAMS described in the previous paragraph. In both cases the low</div>
<div>extinction of most stars in the Magellanic Clouds compared to the</div>
<div>OB Galactic sample plays a role in placing those stars towards the</div>
<div>upper left corner of the diagram. In the case of the first four objects a</div>
<div>second explanation is that they are of spectral type BIa, i.e. very lu-</div>
<div>minous supergiants with small bolometric corrections in the <i>G</i> band.</div>
<div>In the case of the last three objects, they are two early O-stars and</div>
<div>an O+O binary, placing them close to the extinction-free leftmost</div>
<div class="e">possible location in the colour-absolute magnitude diagram.</div>
</div>
<div class="c" style="left:4120px;top:772px">
<div class="i">Finally, it is instructive to compare our colour-absolute magnitude</div>
<div>diagram with Fig. 1 of <span class="b">Babusiaux et al.</span> (<span class="b">2018</span>), which is the equivalent</div>
<div>diagram using the 65 921 112 stars with good-quality <i>Gaia</i> DR2 data</div>
<div>independently of their spectral types. As a first-order approximation,</div>
<div>both diagrams are complementary: the region with a high-density</div>
<div>of objects in Fig. <span class="b">1</span> here appears as a low-density region in the</div>
<div>diagram of the general <i>Gaia</i> DR2 population, with most stars there</div>
<div>located towards the right and bottom. This is a manifestation of</div>
<div>what dominates the <i>Gaia</i> DR2 population: low-mass stars near the</div>
<div>main sequence and red giants (most noticeably in the diagram, red-</div>
<div>clump stars, clearly seen as an extinction sequence). This in turn</div>
<div>is a consequence of the very large numbers of the first type and of</div>
<div>the right combination of high (but not as large as the first) numbers</div>
<div>and high luminosities for the second type. However, a second, more</div>
<div>subtle effect is present in the comparison between the two diagrams.</div>
<div>For luminous stars the transition from low-density to high-density is</div>
<div>rather abrupt in the <span class="b">Babusiaux et al.</span> (<span class="b">2018</span>) around <i>G</i><span class="s">BP</span>−<i>G</i><span class="s">RP</span> = 1.0–</div>
<div>1.2 due to the appearance of the first low-extinction red-clump stars</div>
<div>but why should that be accompanied by a complementary transition</div>
<div>among the M+I type stars in our diagram? The reason is that OB stars</div>
<div>are relatively easy to identify by their colours as long as they are not</div>
</div>
<div class="ft" style="left:4192px;width:300px;text-align:right;top:1143px">MNRAS <b>000</b>, <span class="b">1–15</span> (2020)</div>

<script>
(function(){
function rnd(s){return function(){s=s+0x6D2B79F5|0;var t=Math.imul(s^s>>>15,1|s);t=t+Math.imul(t^t>>>7,61|t)^t;return((t^t>>>14)>>>0)/4294967296;};}
var R=rnd(20210303);
function G(){var u=R();if(u<1e-9)u=1e-9;return Math.sqrt(-2*Math.log(u))*Math.cos(6.2831853*R());}
function seq(a,b,s){var r=[];for(var v=a;v<=b+1e-9;v+=s)r.push(v);return r;}
function ctx(id){var c=document.getElementById(id);return c&&c.getContext?c.getContext('2d'):null;}
function grid(c,b,mx,nx,my,ny){
 function lines(xs,ys,col,w){c.strokeStyle=col;c.lineWidth=w;c.beginPath();xs.forEach(function(x){if(x>b[0]+1&&x<b[2]-1){c.moveTo(x,b[1]);c.lineTo(x,b[3]);}});ys.forEach(function(y){if(y>b[1]+1&&y<b[3]-1){c.moveTo(b[0],y);c.lineTo(b[2],y);}});c.stroke();}
 lines(nx,ny,'#f0f0f0',1.2);
 lines(mx,my,'#d9d9d9',1.7);
 function ticks(xs,ys,L){c.strokeStyle='#444';c.lineWidth=1.7;c.beginPath();xs.forEach(function(x){if(x>=b[0]&&x<=b[2]){c.moveTo(x,b[3]);c.lineTo(x,b[3]-L);c.moveTo(x,b[1]);c.lineTo(x,b[1]+L);}});ys.forEach(function(y){if(y>=b[1]&&y<=b[3]){c.moveTo(b[0],y);c.lineTo(b[0]+L,y);c.moveTo(b[2],y);c.lineTo(b[2]-L,y);}});c.stroke();}
 ticks(mx,my,12);ticks(nx,ny,6);
 c.save();c.beginPath();c.rect(b[0],b[1],b[2]-b[0],b[3]-b[1]);c.clip();
}
function batch(c,col,r,n,gen){c.fillStyle=col;c.beginPath();var k=0,t=0;while(k<n&&t<n*40){t++;var p=gen();if(p){c.moveTo(p[0]+r,p[1]);c.arc(p[0],p[1],r,0,6.2832);k++;}}c.fill();}
function fixed(c,col,r,P){c.fillStyle=col;c.beginPath();P.forEach(function(p){c.moveTo(p[0]+r,p[1]);c.arc(p[0],p[1],r,0,6.2832);});c.fill();}
function ip(P,i,j,v){if(v<=P[0][i])return P[0][j];for(var k=1;k<P.length;k++){if(v<=P[k][i]){var f=(v-P[k-1][i])/(P[k][i]-P[k-1][i]);return P[k-1][j]+f*(P[k][j]-P[k-1][j]);}}return P[P.length-1][j];}
function poly(P){var L=[0];for(var i=1;i<P.length;i++)L.push(L[i-1]+Math.hypot(P[i][0]-P[i-1][0],P[i][1]-P[i-1][1]));var T=L[L.length-1];
 return function(s,off){if(s<0)s=0;if(s>1)s=1;var d=s*T;for(var i=1;i<P.length;i++){if(d<=L[i]||i==P.length-1){var a=P[i-1],b=P[i],l=L[i]-L[i-1],f=(d-L[i-1])/l,dx=(b[0]-a[0])/l,dy=(b[1]-a[1])/l;return[a[0]+f*(b[0]-a[0])+dy*off,a[1]+f*(b[1]-a[1])-dx*off];}}return P[0];};}
function inb(p,b){return p&&p[0]>b[0]&&p[0]<b[2]&&p[1]>b[1]&&p[1]<b[3]?p:null;}

/* ---------- Fig 1 left ---------- */
var c=ctx('k1');
if(c){
 var b1=[140,37,1160,1048];
 grid(c,b1,seq(0,5,1).map(function(v){return 287+161.8*v;}),seq(-0.8,5.4,0.2).map(function(v){return 287+161.8*v;}),seq(-7.5,12.5,2.5).map(function(v){return 107+43.8*(v+7.5);}),seq(-9,14,0.5).map(function(v){return 107+43.8*(v+7.5);}));
 var Z=[[196,183],[198,270],[205,300],[225,370],[245,430],[265,480],[285,505],[320,530],[360,565],[390,610],[430,650],[470,690],[510,740],[540,790],[570,840],[600,885],[630,915],[665,948]];
 var zx=function(y){return ip(Z,1,0,y);},zy=function(x){return ip(Z,0,1,x);};
 var y20=function(x){return 380+0.474*(x-228);},y10=function(x){return 495+0.473*(x-279);};
 batch(c,'#8a2be2',2.4,9000,function(){var x=233+Math.abs(G())*150;if(R()<0.12)x+=Math.abs(G())*220;var y=335+G()*80;if(y<y20(x)-2&&x>zx(y)+5&&y>115&&x<1150)return[x,y];return null;});
 fixed(c,'#8a2be2',2.4,[[1125,410],[1125,420],[865,190],[850,360],[885,397],[925,595],[1095,652],[680,185],[715,185],[727,205],[768,290],[768,405],[770,525],[820,422],[655,210],[690,250],[725,325],[760,560]]);
 batch(c,'#4169e1',2.4,1500,function(){var x=230+Math.abs(G())*120;var a=y20(x),bb=y10(x);var y=a+2+R()*(bb-a-4);if(x>zx(y)+4&&x<900)return[x,y];return null;});
 batch(c,'#ff9900',2.4,260,function(){var x=330+Math.abs(G())*90;var a=y10(x),bb=zy(x);if(bb<=a+4)return null;var y=a+2+R()*Math.min(bb-a-4,115);return[x,y];});
 fixed(c,'#ff9900',2.4,[[625,790],[640,820],[580,665],[600,650]]);
 batch(c,'#dc143c',2.4,100,function(){var x=172+R()*160;var y=400+R()*320;if(x<zx(y)-5)return[x,y];return null;});
 fixed(c,'#dc143c',2.4,[[195,750],[192,790],[200,853],[232,900],[243,798],[265,945],[330,1010],[470,750],[470,690]]);
 c.fillStyle='#000';
 [[230,160],[253,156],[295,87],[317,45],[346,143],[368,105]].forEach(function(p){c.beginPath();for(var i=0;i<10;i++){var a=-Math.PI/2+i*Math.PI/5,rr=i%2?4:9;c.lineTo(p[0]+rr*Math.cos(a),p[1]+rr*Math.sin(a));}c.closePath();c.fill();});
 c.restore();
}

/* ---------- Fig 1 right ---------- */
c=ctx('k2');
if(c){
 var b2=[100,35,1118,1048];
 var lx=function(d){return 400+300*Math.log(d/100)/Math.LN10;};
 var mn=[];[10,100,1000,10000].forEach(function(p){for(var m=1;m<10;m++)mn.push(lx(m*p));});
 grid(c,b2,[25,50,100,250,500,1000,2500,5000,10000].map(lx),mn,seq(-7.5,12.5,2.5).map(function(v){return 107+43.8*(v+7.5);}),seq(-9,14,0.5).map(function(v){return 107+43.8*(v+7.5);}));
 batch(c,'#8a2be2',2.4,9000,function(){var u=R(),x,y;if(u<0.62){x=805+G()*70;y=330+G()*62;}else if(u<0.9){x=800-Math.abs(G())*190;y=335+0.2*(800-x)+G()*52;}else{x=820+G()*120;y=300+G()*75;}if(x>102&&x<1116&&y>100&&y<600)return[x,y];return null;});
 batch(c,'#4169e1',2.4,1500,function(){var x=600+G()*140;var y=445+0.12*(x-500)+G()*32;return inb([x,y],b2);});
 batch(c,'#ff9900',2.4,260,function(){var x=555+G()*75;var y=592+G()*27-0.05*(x-555);return inb([x,y],b2);});
 fixed(c,'#ff9900',2.4,[[240,595],[165,818],[265,787],[393,733],[840,625],[825,660],[845,680]]);
 batch(c,'#dc143c',2.4,100,function(){var x=530+G()*115;var y=615+G()*45;return inb([x,y],b2);});
 fixed(c,'#dc143c',2.4,[[315,787],[310,850],[280,900],[333,940],[390,710],[428,745],[608,752],[593,795],[660,700],[665,710]]);
 fixed(c,'#4169e1',2.4,[[597,703]]);
 c.restore();
}

/* ---------- Fig 2 left ---------- */
c=ctx('k3');
if(c){
 var b3=[123,33,1115,1020];
 grid(c,b3,seq(0,3.5,0.5).map(function(v){return 218+242.57*v;}),seq(-0.4,3.7,0.1).map(function(v){return 218+242.57*v;}),seq(-0.5,1.5,0.25).map(function(v){return 124+448*(1.5-v);}),seq(-0.5,1.7,0.05).map(function(v){return 124+448*(1.5-v);}));
 var C=poly([[155,968],[180,925],[195,885],[212,797],[245,685],[310,573],[390,460],[490,348],[560,290],[605,258]]);
 batch(c,'rgba(10,10,255,0.85)',2.1,5500,function(){var s=0.06+0.8*Math.pow(R(),1.7);var off=-3+G()*5;if(R()<0.05)off+=G()*22;return inb(C(s,off),b3);});
 batch(c,'rgba(255,15,15,0.85)',2.1,5000,function(){var s=0.98*Math.pow(R(),0.75);var off=5+G()*6;if(R()<0.06)off+=G()*22;return inb(C(s,off),b3);});
 fixed(c,'rgba(255,15,15,0.9)',2.3,[[1028,50],[1090,80],[1090,90],[810,125],[710,143],[615,213],[620,225],[632,233]]);
 fixed(c,'rgba(10,10,255,0.9)',2.3,[[755,183],[750,205],[765,197],[705,208],[800,213],[640,240],[260,800],[250,810]]);
 c.restore();
}

/* ---------- Fig 2 right ---------- */
c=ctx('k4');
if(c){
 var b4=[97,38,1087,1020];
 grid(c,b4,seq(-0.3,0.4,0.1).map(function(v){return 97+1414.3*(v+0.3);}),seq(-0.3,0.4,0.02).map(function(v){return 97+1414.3*(v+0.3);}),seq(-0.3,0.5,0.1).map(function(v){return 93+1091.25*(0.5-v);}),seq(-0.36,0.56,0.02).map(function(v){return 93+1091.25*(0.5-v);}));
 var B=poly([[300,1010],[380,900],[450,790],[530,680],[620,560],[720,440],[830,320],[950,200],[1100,50]]);
 var Ls=poly([[185,1000],[250,925],[330,845],[420,745],[520,625],[620,520]]);
 batch(c,'rgba(10,10,255,0.8)',2,5500,function(){var off=G()*10-2;var u=R();if(u<0.08)off+=Math.abs(G())*45;else if(u<0.11)off-=Math.abs(G())*30;return inb(B(R(),off),b4);});
 batch(c,'rgba(10,10,255,0.8)',2,350,function(){return inb(B(0.2+R()*0.35,30+Math.abs(G())*70),b4);});
 batch(c,'rgba(255,15,15,0.8)',2,4500,function(){var s=0.15+0.85*Math.pow(R(),0.6);var off=16+G()*14;if(R()<0.08)off+=G()*45;return inb(B(s,off),b4);});
 batch(c,'rgba(255,15,15,0.8)',2,120,function(){return inb(Ls(R(),G()*12),b4);});
 function circ(col,n,gen){c.lineWidth=1.6;c.strokeStyle='#111';c.fillStyle=col;for(var i=0;i<n;i++){var p=gen();if(!p)continue;c.beginPath();c.arc(p[0],p[1],5.5,0,6.2832);c.fill();c.stroke();}}
 circ('#8b0000',45,function(){return inb(Ls(R()*0.85,G()*10),b4);});
 circ('#00008b',10,function(){return inb(B(R()*0.12,G()*6),b4);});
 circ('#8b0000',22,function(){return inb(B(0.45+R()*0.55,12+G()*10),b4);});
 circ('#8b0000',2,function(){return R()<0.5?[437,452]:[215,748];});
 c.restore();
}
})();
</script>
</body></html>
